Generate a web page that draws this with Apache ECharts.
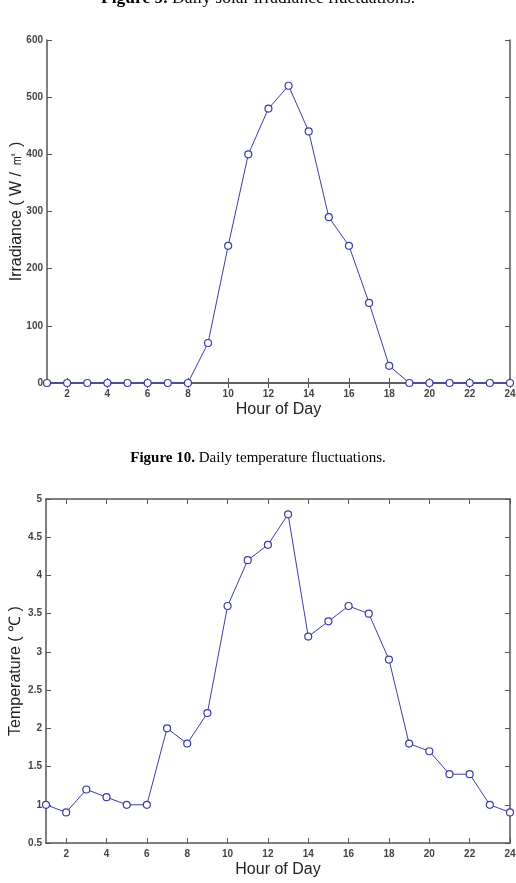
<!DOCTYPE html>
<html><head><meta charset="utf-8">
<script src="https://cdn.jsdelivr.net/npm/echarts@6/dist/echarts.min.js"></script>
<style>html,body{margin:0;padding:0;background:#fff}#c{width:516px;height:883px}</style>
</head><body><div id="c"></div>
<script>
const hours = [1,2,3,4,5,6,7,8,9,10,11,12,13,14,15,16,17,18,19,20,21,22,23,24];
const irradiance = [0,0,0,0,0,0,0,0,70,240,400,480,520,440,290,240,140,30,0,0,0,0,0,0];
const temperature = [1.0,0.9,1.2,1.1,1.0,1.0,2.0,1.8,2.2,3.6,4.2,4.4,4.8,3.2,3.4,3.6,3.5,2.9,1.8,1.7,1.4,1.4,1.0,0.9];
const xTickValues = [2,4,6,8,10,12,14,16,18,20,22,24];
const caption1 = ['Figure 9.', ' Daily solar irradiance fluctuations.'];
const caption2 = ['Figure 10.', ' Daily temperature fluctuations.'];
const yName1 = 'Irradiance ( W / ㎡ )';
const yName2 = 'Temperature ( ℃ )';
const xName = 'Hour of Day';

const axisCol = '#555';
const lineCol = '#3b3bab';
const labelStyle = {color:'#444', fontSize:10, fontFamily:'Liberation Sans, Arial', fontWeight:'bold'};
const nameStyle = {color:'#222', fontSize:16, fontFamily:'Liberation Sans, Arial'};

function xAxes(gi){
  return [
    {type:'value', gridIndex:gi, min:1, max:24, position:'bottom',
     axisLine:{lineStyle:{color:axisCol,width:1.5}},
     axisTick:{inside:true, length:5, customValues:xTickValues, lineStyle:{color:axisCol}},
     axisLabel:{customValues:xTickValues, margin:6, ...labelStyle},
     splitLine:{show:false},
     name:xName, nameLocation:'middle', nameGap:19, nameTextStyle:nameStyle},
    {type:'value', gridIndex:gi, min:1, max:24, position:'top',
     axisLine:{lineStyle:{color:axisCol,width:1.5}},
     axisTick:{inside:true, length:5, customValues:xTickValues, lineStyle:{color:axisCol}},
     axisLabel:{show:false}, splitLine:{show:false}}
  ];
}
function yAxes(gi, min, max, interval, name){
  return [
    {type:'value', gridIndex:gi, min:min, max:max, interval:interval, position:'left',
     axisLine:{show:true, lineStyle:{color:axisCol,width:1.5}},
     axisTick:{show:true, inside:true, length:5, lineStyle:{color:axisCol}},
     axisLabel:{margin:4, ...labelStyle},
     splitLine:{show:false},
     name:name, nameLocation:'middle', nameGap:22, nameMoveOverlap:false, nameTextStyle:nameStyle},
    {type:'value', gridIndex:gi, min:min, max:max, interval:interval, position:'right',
     axisLine:{show:true, lineStyle:{color:axisCol,width:1.5}},
     axisTick:{show:true, inside:true, length:5, lineStyle:{color:axisCol}},
     axisLabel:{show:false}, splitLine:{show:false}}
  ];
}

const chart = echarts.init(document.getElementById('c'), null, {renderer:'canvas'});
const seriesStyle = {
  type:'line', symbol:'circle', symbolSize:7,
  lineStyle:{color:lineCol, width:1},
  itemStyle:{color:'#fff', borderColor:lineCol, borderWidth:1.2},
  animation:false
};
chart.setOption({
  animation:false,
  grid:[
    {left:47, right:6, top:40, height:343, containLabel:false, outerBoundsMode:'none'},
    {left:46, right:6, top:499, height:344, containLabel:false, outerBoundsMode:'none'}
  ],
  xAxis:[...xAxes(0), ...xAxes(1)],
  yAxis:[...yAxes(0,0,600,100,yName1), ...yAxes(1,0.5,5,0.5,yName2)],
  series:[
    {...seriesStyle, xAxisIndex:0, yAxisIndex:0, data:hours.map((h,i)=>[h,irradiance[i]])},
    {...seriesStyle, xAxisIndex:2, yAxisIndex:2, data:hours.map((h,i)=>[h,temperature[i]])}
  ],
  graphic:[
    {type:'text', left:'center', top:-11, style:{
      rich:{b:{fontWeight:'bold', fontSize:17.5, fontFamily:'Liberation Serif, Times New Roman', fill:'#000'},
            n:{fontSize:17.5, fontFamily:'Liberation Serif, Times New Roman', fill:'#000'}},
      text:'{b|'+caption1[0]+'}{n|'+caption1[1]+'}'}},
    {type:'text', left:'center', top:451, style:{
      rich:{b:{fontWeight:'bold', fontSize:15, fontFamily:'Liberation Serif, Times New Roman', fill:'#000'},
            n:{fontSize:15, fontFamily:'Liberation Serif, Times New Roman', fill:'#000'}},
      text:'{b|'+caption2[0]+'}{n|'+caption2[1]+'}'}}
  ]
});
</script></body></html>
